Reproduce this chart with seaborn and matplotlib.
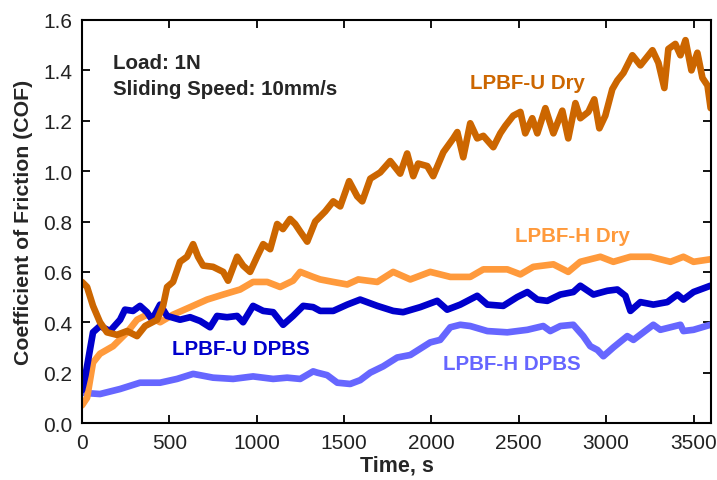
import matplotlib
matplotlib.use("Agg")
import matplotlib.pyplot as plt
import seaborn as sns
import pandas as pd

# ---- data ----
t_u_dry = [0, 29, 63, 103, 143, 200, 258, 315, 361, 430, 464, 487, 521, 561, 601, 636, 664, 693, 750,
           808, 836, 888, 922, 962, 1002, 1037, 1077, 1117, 1150, 1191, 1220, 1249, 1289, 1335, 1392,
           1438, 1478, 1529, 1575, 1604, 1650, 1707, 1764, 1821, 1861, 1896, 1924, 1976, 2010, 2068,
           2125, 2148, 2182, 2222, 2262, 2297, 2354, 2394, 2423, 2468, 2509, 2537, 2577, 2606, 2652,
           2698, 2749, 2783, 2824, 2852, 2898, 2932, 2961, 2995, 3035, 3064, 3099, 3150, 3196, 3265,
           3299, 3333, 3356, 3396, 3425, 3454, 3488, 3522, 3551, 3580, 3598]
v_u_dry = [0.56, 0.54, 0.465, 0.40, 0.36, 0.35, 0.365, 0.345, 0.385, 0.41, 0.465, 0.54, 0.56, 0.64, 0.66,
           0.71, 0.66, 0.625, 0.62, 0.60, 0.565, 0.66, 0.625, 0.60, 0.66, 0.71, 0.69, 0.79, 0.77, 0.81,
           0.79, 0.76, 0.72, 0.80, 0.84, 0.88, 0.86, 0.96, 0.90, 0.88, 0.97, 0.995, 1.04, 0.99, 1.07, 0.98,
           1.03, 1.02, 0.98, 1.075, 1.13, 1.155, 1.055, 1.19, 1.13, 1.14, 1.095, 1.15, 1.18, 1.22, 1.235,
           1.15, 1.21, 1.15, 1.25, 1.15, 1.24, 1.13, 1.27, 1.21, 1.235, 1.285, 1.17, 1.22, 1.325, 1.36,
           1.39, 1.46, 1.42, 1.48, 1.43, 1.33, 1.485, 1.505, 1.46, 1.52, 1.40, 1.47, 1.37, 1.34, 1.25]

t_h_dry = [0, 29, 63, 103, 178, 258, 315, 372, 447, 521, 619, 716, 808, 905, 979, 1060, 1134, 1208, 1249,
           1323, 1363, 1438, 1518, 1581, 1690, 1781, 1879, 1993, 2108, 2222, 2297, 2434, 2509, 2583,
           2698, 2783, 2852, 2967, 3041, 3139, 3253, 3368, 3442, 3500, 3597]
v_h_dry = [0.07, 0.10, 0.24, 0.275, 0.305, 0.36, 0.41, 0.43, 0.40, 0.43, 0.46, 0.49, 0.51, 0.53, 0.56,
           0.56, 0.54, 0.565, 0.60, 0.58, 0.57, 0.56, 0.55, 0.57, 0.56, 0.60, 0.57, 0.60, 0.58, 0.58, 0.61,
           0.61, 0.59, 0.62, 0.63, 0.60, 0.64, 0.66, 0.64, 0.66, 0.66, 0.64, 0.66, 0.64, 0.65]

t_u_dpbs = [0, 20, 63, 103, 160, 218, 246, 292, 332, 372, 401, 447, 487, 561, 619, 676, 733, 773, 830,
            888, 922, 979, 1037, 1094, 1151, 1208, 1266, 1323, 1363, 1438, 1518, 1592, 1690, 1781, 1838,
            1936, 2033, 2090, 2165, 2262, 2320, 2411, 2491, 2549, 2606, 2663, 2738, 2812, 2852, 2927,
            3007, 3064, 3110, 3139, 3196, 3270, 3350, 3408, 3442, 3500, 3597]
v_u_dpbs = [0.13, 0.19, 0.36, 0.385, 0.365, 0.41, 0.45, 0.445, 0.465, 0.44, 0.41, 0.47, 0.425, 0.41, 0.42,
            0.405, 0.38, 0.425, 0.42, 0.425, 0.40, 0.465, 0.445, 0.44, 0.39, 0.425, 0.465, 0.46, 0.445,
            0.445, 0.47, 0.49, 0.465, 0.445, 0.44, 0.46, 0.485, 0.45, 0.47, 0.505, 0.47, 0.465, 0.50, 0.52,
            0.49, 0.485, 0.51, 0.52, 0.545, 0.51, 0.525, 0.53, 0.505, 0.445, 0.48, 0.47, 0.48, 0.51, 0.49,
            0.52, 0.545]

t_h_dpbs = [0, 103, 218, 332, 447, 544, 636, 750, 865, 979, 1094, 1174, 1249, 1323, 1346, 1403, 1461,
            1535, 1592, 1650, 1724, 1804, 1879, 1936, 1993, 2050, 2108, 2165, 2222, 2320, 2434, 2549,
            2640, 2680, 2738, 2812, 2869, 2909, 2950, 2984, 3041, 3121, 3156, 3213, 3270, 3310, 3425,
            3442, 3500, 3597]
v_h_dpbs = [0.12, 0.115, 0.135, 0.16, 0.16, 0.175, 0.195, 0.18, 0.175, 0.185, 0.175, 0.18, 0.175, 0.205,
            0.20, 0.19, 0.16, 0.155, 0.17, 0.20, 0.225, 0.26, 0.27, 0.295, 0.32, 0.33, 0.38, 0.39, 0.385,
            0.365, 0.36, 0.37, 0.385, 0.365, 0.385, 0.39, 0.345, 0.305, 0.29, 0.265, 0.30, 0.345, 0.33,
            0.36, 0.39, 0.37, 0.39, 0.365, 0.37, 0.39]

x_ticks = [0, 500, 1000, 1500, 2000, 2500, 3000, 3500]
y_ticks = [0.0, 0.2, 0.4, 0.6, 0.8, 1.0, 1.2, 1.4, 1.6]

c_u_dry = "#CC6600"
c_h_dry = "#FF9A3C"
c_u_dpbs = "#0000CC"
c_h_dpbs = "#6666FF"

sns.set_style("ticks")
plt.rcParams["font.family"] = ["Liberation Sans", "DejaVu Sans"]

fig = plt.figure(figsize=(7.17, 4.81), dpi=100)
ax = fig.add_axes([82 / 717, 1 - 424 / 481, (711 - 82) / 717, (424 - 21) / 481])

lw = 4.8
series = [
    (t_h_dpbs, v_h_dpbs, c_h_dpbs),
    (t_h_dry, v_h_dry, c_h_dry),
    (t_u_dpbs, v_u_dpbs, c_u_dpbs),
    (t_u_dry, v_u_dry, c_u_dry),
]
for t, v, c in series:
    df = pd.DataFrame({"t": t, "v": v})
    sns.lineplot(data=df, x="t", y="v", ax=ax, color=c, linewidth=lw, solid_joinstyle="round",
                 solid_capstyle="round", estimator=None, sort=False)

ax.set_xlim(0, 3600)
ax.set_ylim(0, 1.6)
ax.set_xticks(x_ticks)
ax.set_yticks(y_ticks)
ax.set_yticklabels([f"{y:.1f}" for y in y_ticks])
ax.tick_params(direction="in", top=True, right=True, length=6, width=1.3, labelsize=15,
               colors="black", labelcolor="#222222", pad=7)
ax.tick_params(axis="x", labeltop=False)
ax.tick_params(axis="y", labelright=False)
for s in ax.spines.values():
    s.set_linewidth(1.5)
    s.set_color("black")

ax.set_xlabel("Time, s", fontsize=15.5, fontweight="bold", labelpad=2)
ax.set_ylabel("Coefficient of Friction (COF)", fontsize=15.3, fontweight="bold", labelpad=7)

fs = 14.8
ax.text(178, 1.43, "Load: 1N", fontsize=fs, fontweight="bold", va="center", ha="left")
ax.text(178, 1.33, "Sliding Speed: 10mm/s", fontsize=fs, fontweight="bold", va="center", ha="left")
ax.text(2222, 1.35, "LPBF-U Dry", fontsize=fs, fontweight="bold", color=c_u_dry, va="center", ha="left")
ax.text(2480, 0.745, "LPBF-H Dry", fontsize=fs, fontweight="bold", color=c_h_dry, va="center", ha="left")
ax.text(516, 0.295, "LPBF-U DPBS", fontsize=fs, fontweight="bold", color=c_u_dpbs, va="center", ha="left")
ax.text(2068, 0.235, "LPBF-H DPBS", fontsize=fs, fontweight="bold", color=c_h_dpbs, va="center", ha="left")

fig.savefig("out.png", dpi=100)
